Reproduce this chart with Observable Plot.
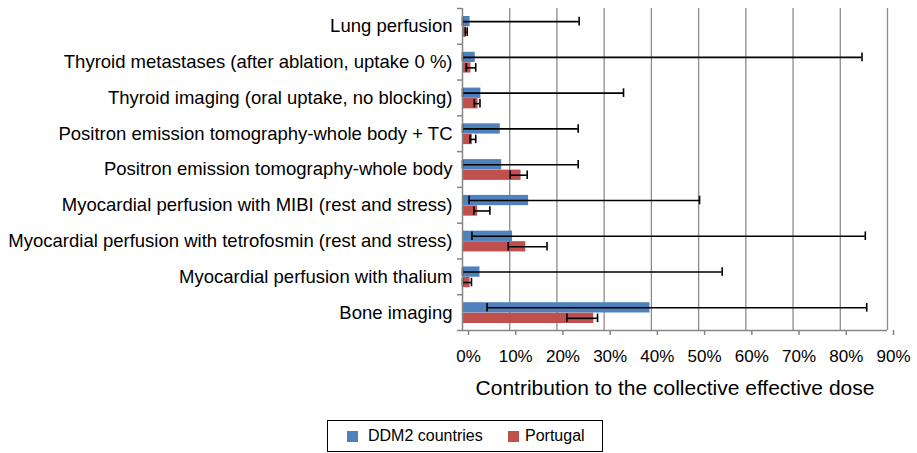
<!DOCTYPE html>
<html>
<head>
<meta charset="utf-8">
<script src="https://cdn.jsdelivr.net/npm/d3@7"></script>
<script src="https://cdn.jsdelivr.net/npm/@observablehq/plot@0.6"></script>
<style>
  html, body { margin: 0; padding: 0; background: #fff; }
  body { width: 917px; height: 453px; position: relative; font-family: "Liberation Sans", Arial, sans-serif; }
  #chart svg { display: block; }
  .legend { position: absolute; left: 327px; top: 420px; width: 274px; height: 30px; border: 1.5px solid #000; box-sizing: content-box; font-size: 16px; color: #000; }
  .legend .sw { position: absolute; top: 10px; width: 11px; height: 11px; }
  .legend .lb { position: absolute; top: 6px; line-height: 18px; white-space: nowrap; }
</style>
</head>
<body>
<div id="chart"></div>
<div class="legend" id="legend"></div>
<script>
const categories = [
  "Lung perfusion",
  "Thyroid metastases (after ablation, uptake 0 %)",
  "Thyroid imaging (oral uptake, no blocking)",
  "Positron emission tomography-whole body + TC",
  "Positron emission tomography-whole body",
  "Myocardial perfusion with MIBI (rest and stress)",
  "Myocardial perfusion with tetrofosmin (rest and stress)",
  "Myocardial perfusion with thalium",
  "Bone imaging"
];
const seriesNames = ["DDM2 countries", "Portugal"];
const ddm2 = [1.6, 2.7, 3.9, 8.0, 8.3, 14.0, 10.6, 3.7, 39.7];
const ddm2Lo = [0, 0, 0, 0, 0, 1.4, 2.0, 0, 5.2];
const ddm2Hi = [24.7, 84.6, 34.1, 24.5, 24.5, 50.2, 85.3, 55.0, 85.6];
const portugal = [0.8, 1.8, 3.3, 2.1, 12.4, 3.2, 13.4, 1.6, 27.8];
const portugalLo = [0.6, 0.8, 2.5, 1.6, 10.1, 2.4, 9.7, 0.0, 22.1];
const portugalHi = [1.0, 2.8, 3.7, 2.8, 13.7, 5.8, 17.9, 1.9, 28.6];
const xTicks = [0, 10, 20, 30, 40, 50, 60, 70, 80, 90];
const xTitle = "Contribution to the collective effective dose";

const colors = ["#4F81BD", "#C0504D"];
const rows = categories.map((c, i) => ({
  category: c,
  ddm2: ddm2[i], ddm2Lo: ddm2Lo[i], ddm2Hi: ddm2Hi[i],
  portugal: portugal[i], portugalLo: portugalLo[i], portugalHi: portugalHi[i]
}));

const W = 917, H = 410, ML = 462, MR = 30, MT = 8, MB = 80;
const plotW = W - ML - MR;
const band = (H - MT - MB) / categories.length;
const axisGray = "#868686";
const errStyle = {stroke: "#000", strokeWidth: 1.6};

const chart = Plot.plot({
  width: W, height: H,
  marginLeft: ML, marginRight: MR, marginTop: MT, marginBottom: MB,
  style: {fontFamily: "'Liberation Sans', Arial, sans-serif", background: "#fff", color: "#000"},
  x: {domain: [0, 90], ticks: xTicks, tickFormat: d => d + "%"},
  y: {domain: categories, padding: 0, round: false},
  marks: [
    Plot.gridX(xTicks.slice(1), {stroke: "#8c8c8c", strokeOpacity: 1, strokeWidth: 1.3}),
    Plot.barX(rows, {y: "category", x: "ddm2", fill: colors[0], insetTop: 8, insetBottom: 17.5}),
    Plot.barX(rows, {y: "category", x: "portugal", fill: colors[1], insetTop: 18.5, insetBottom: 7}),
    Plot.ruleY(rows, {y: "category", x1: "ddm2Lo", x2: "ddm2Hi", dy: -4.8, ...errStyle}),
    Plot.tickX(rows, {y: "category", x: "ddm2Lo", insetTop: 8.8, insetBottom: 18.4, ...errStyle}),
    Plot.tickX(rows, {y: "category", x: "ddm2Hi", insetTop: 8.8, insetBottom: 18.4, ...errStyle}),
    Plot.ruleY(rows, {y: "category", x1: "portugalLo", x2: "portugalHi", dy: 5.7, ...errStyle}),
    Plot.tickX(rows, {y: "category", x: "portugalLo", insetTop: 19.3, insetBottom: 7.9, ...errStyle}),
    Plot.tickX(rows, {y: "category", x: "portugalHi", insetTop: 19.3, insetBottom: 7.9, ...errStyle}),
    Plot.ruleX([0], {stroke: axisGray, strokeWidth: 1.5}),
    Plot.ruleY([categories[categories.length - 1]], {dy: band / 2, stroke: axisGray, strokeWidth: 1.5}),
    Plot.ruleY(categories, {dy: -band / 2, insetLeft: -5, insetRight: plotW, stroke: axisGray, strokeWidth: 1.5}),
    Plot.ruleY([categories[categories.length - 1]], {dy: band / 2, insetLeft: -5, insetRight: plotW, stroke: axisGray, strokeWidth: 1.5}),
    Plot.axisX({ticks: xTicks, tickSize: 5, tickPadding: 14, fontSize: 17, stroke: axisGray, strokeWidth: 1.5, fill: "#000", dx: 6, label: null, tickFormat: d => d + "%"}),
    Plot.axisY({tickSize: 0, tickPadding: 10, fontSize: 18.5, fill: "#000", label: null}),
    Plot.text([xTitle], {frameAnchor: "bottom", dy: 64, fontSize: 21, fill: "#000"})
  ]
});
document.getElementById("chart").appendChild(chart);

const legend = document.getElementById("legend");
const items = [
  {name: seriesNames[0], color: colors[0], sw: 19, lb: 40},
  {name: seriesNames[1], color: colors[1], sw: 180, lb: 197}
];
for (const it of items) {
  const s = document.createElement("div");
  s.className = "sw"; s.style.left = it.sw + "px"; s.style.background = it.color;
  const t = document.createElement("div");
  t.className = "lb"; t.style.left = it.lb + "px"; t.textContent = it.name;
  legend.appendChild(s); legend.appendChild(t);
}
</script>
</body>
</html>
